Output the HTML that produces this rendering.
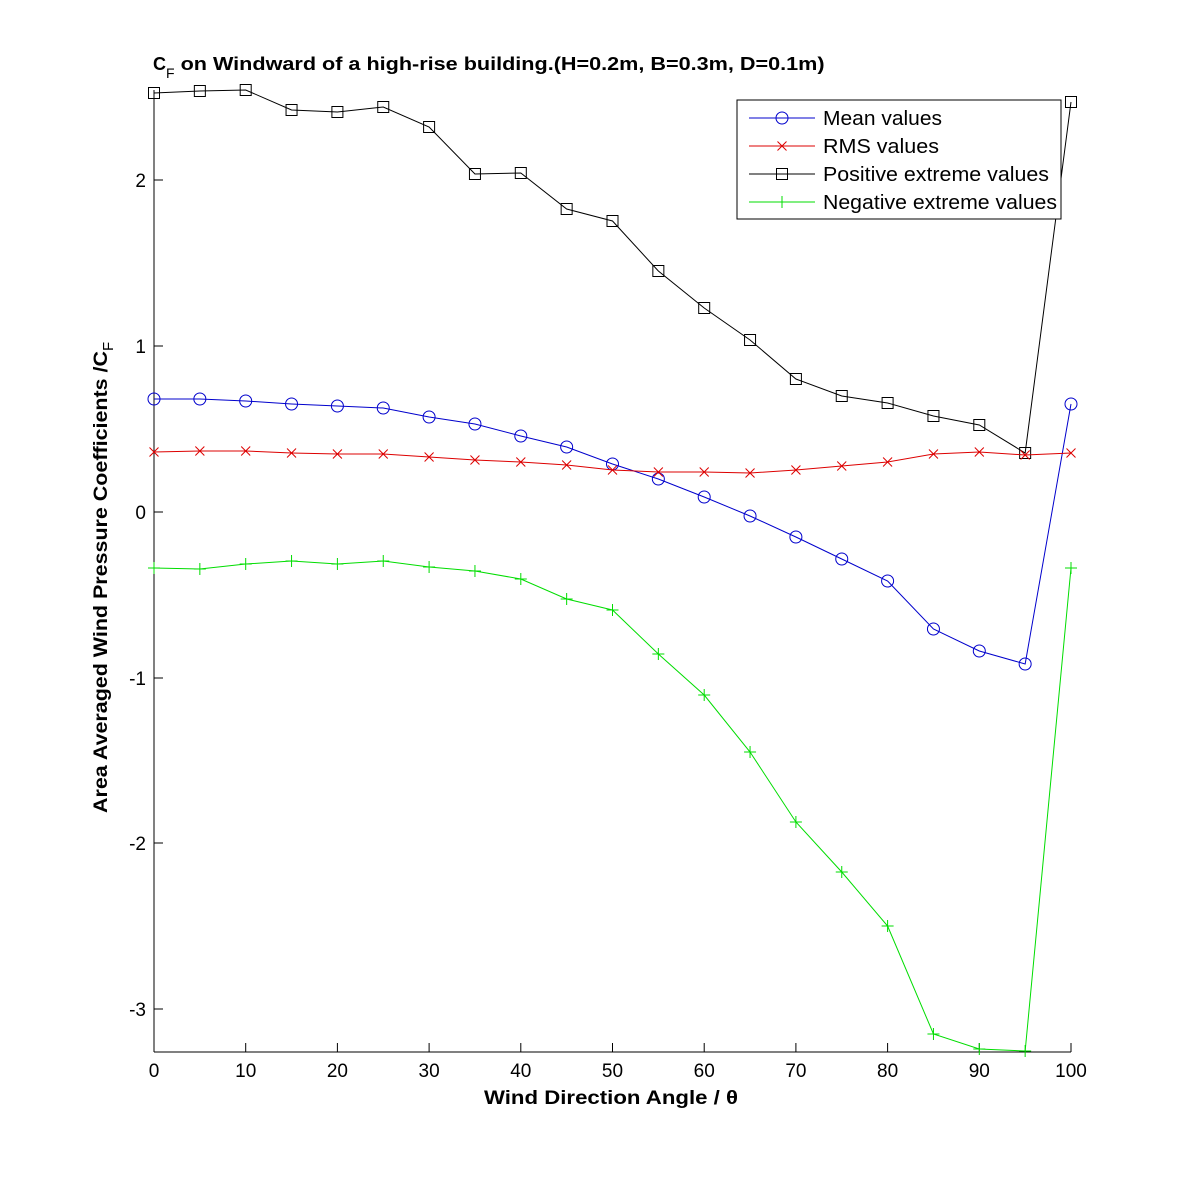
<!DOCTYPE html>
<html><head><meta charset="utf-8"><style>
html,body{margin:0;padding:0;background:#fff;}
svg{display:block;font-family:"Liberation Sans",Arial,sans-serif;}
</style></head><body>
<svg id="s" width="1183" height="1183" xmlns="http://www.w3.org/2000/svg">
<rect width="1183" height="1183" fill="#fff"/>
<text x="153" y="70" font-size="18" font-weight="bold">C<tspan font-size="14" font-weight="normal" dy="8">F</tspan><tspan dy="-8" textLength="650" lengthAdjust="spacingAndGlyphs"> on Windward of a high-rise building.(H=0.2m, B=0.3m, D=0.1m)</tspan></text>
<line x1="154" y1="90" x2="154" y2="1052" stroke="#000"/>
<line x1="154" y1="1052" x2="1071" y2="1052" stroke="#000"/>
<g id="ticks" stroke="#000"></g>
<g id="tl" font-size="19" fill="#000"></g>
<text x="484" y="1104" font-size="19" font-weight="bold" textLength="254" lengthAdjust="spacingAndGlyphs">Wind Direction Angle  / θ</text>
<text transform="translate(107,813) rotate(-90)" font-size="19" font-weight="bold"><tspan textLength="462" lengthAdjust="spacingAndGlyphs">Area Averaged Wind Pressure Coefficients /C</tspan><tspan font-size="15" font-weight="normal" dy="6">F</tspan></text>
<g id="series"></g>
<g id="legend">
<rect x="737" y="100" width="324" height="119" fill="#fff" stroke="#000"/>
<text x="823" y="125" font-size="20" textLength="119" lengthAdjust="spacingAndGlyphs">Mean values</text>
<text x="823" y="153" font-size="20" textLength="116" lengthAdjust="spacingAndGlyphs">RMS values</text>
<text x="823" y="181" font-size="20" textLength="226" lengthAdjust="spacingAndGlyphs">Positive extreme values</text>
<text x="823" y="209" font-size="20" textLength="234" lengthAdjust="spacingAndGlyphs">Negative extreme values</text>
</g>
</svg>
<script>
var NS="http://www.w3.org/2000/svg";
function el(p,t,a){var e=document.createElementNS(NS,t);for(var k in a)e.setAttribute(k,a[k]);p.appendChild(e);return e;}
var tk=document.getElementById('ticks'),tl=document.getElementById('tl');
for(var i=0;i<=10;i++){var x=154+i*91.7;el(tk,'line',{x1:x,y1:1052,x2:x,y2:1043});var t=el(tl,'text',{x:x,y:1077,'text-anchor':'middle'});t.textContent=i*10;}
[[2,180],[1,346],[0,512],[-1,678],[-2,843],[-3,1009]].forEach(function(v){el(tk,'line',{x1:154,y1:v[1],x2:163,y2:v[1]});var t=el(tl,'text',{x:146,y:v[1]+7,'text-anchor':'end'});t.textContent=v[0];});
var mean=[399,399,401,404,406,408,417,424,436,447,464,479,497,516,537,559,581,629,651,664,404];
var rms=[452,451,451,453,454,454,457,460,462,465,470,472,472,473,470,466,462,454,452,455,453];
var pos=[93,91,90,110,112,107,127,174,173,209,221,271,308,340,379,396,403,416,425,453,102];
var neg=[568,569,564,561,564,561,567,571,579,599,610,654,695,752,822,872,926,1034,1049,1051,568];
var g=document.getElementById('series');
function mk(p,type,x,y,c){
 if(type=='o')el(p,'circle',{cx:x,cy:y,r:6,fill:'none',stroke:c});
 if(type=='x'){el(p,'path',{d:'M'+(x-4.5)+' '+(y-4.5)+'L'+(x+4.5)+' '+(y+4.5)+'M'+(x-4.5)+' '+(y+4.5)+'L'+(x+4.5)+' '+(y-4.5),stroke:c});}
 if(type=='s')el(p,'rect',{x:x-5.5,y:y-5.5,width:11,height:11,fill:'none',stroke:c});
 if(type=='+'){el(p,'path',{d:'M'+(x-6)+' '+y+'L'+(x+6)+' '+y+'M'+x+' '+(y-6)+'L'+x+' '+(y+6),stroke:c});}
}
function ser(d,c,type){var pts=d.map(function(y,i){return (154+i*45.85)+','+y;}).join(' ');
 el(g,'polyline',{points:pts,fill:'none',stroke:c,'stroke-width':1});
 d.forEach(function(y,i){mk(g,type,154+i*45.85,y,c);});}
ser(pos,'#000','s');ser(mean,'#0000cc','o');ser(rms,'#dd0000','x');ser(neg,'#00dd00','+');
var lg=document.getElementById('legend');
[['#0000cc','o',118],['#dd0000','x',146],['#000','s',174],['#00dd00','+',202]].forEach(function(v){
 el(lg,'line',{x1:749,y1:v[2],x2:815,y2:v[2],stroke:v[0]});mk(lg,v[1],782,v[2],v[0]);});
</script>
</body></html>
